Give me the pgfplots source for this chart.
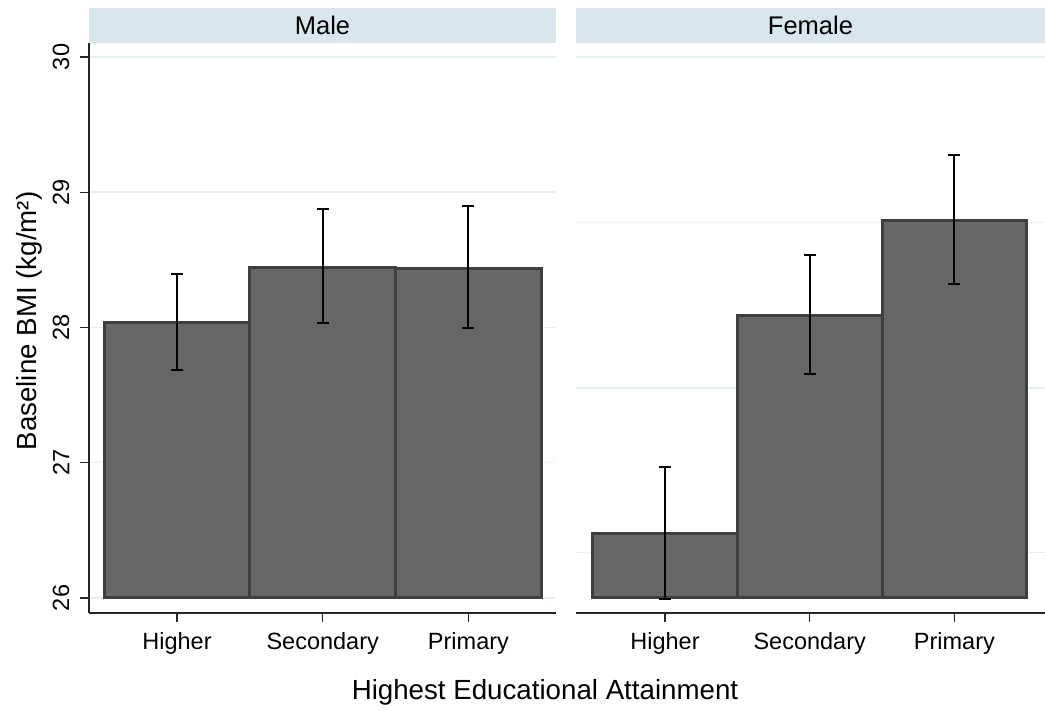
\documentclass[border=0pt]{standalone}
\usepackage{fontspec}
\setmainfont{Liberation Sans}
\usepackage{pgfplots}
\usepackage{pgfplotstable}
\pgfplotsset{compat=1.18}
\definecolor{barfill}{HTML}{666666}
\definecolor{barline}{HTML}{3F3F3F}
\definecolor{hdr}{HTML}{D9E6EB}
\definecolor{gridc}{HTML}{E6EFF1}

\pgfplotstableread{
x m lo hi
1 28.037 27.684 28.398
2 28.447 28.032 28.877
3 28.437 27.993 28.899
}\male
\pgfplotstableread{
x m lo hi
1 26.475 25.990 26.972
2 28.087 27.655 28.533
3 28.790 28.320 29.276
}\female

\pgfplotsset{
  panel/.style={
    scale only axis, height=570pt,
    ymin=25.889, ymax=30.1035,
    axis x line*=bottom,
    axis line style={-, line width=1.3pt, black!85},
    tick align=outside, major tick length=9pt,
    tick style={line width=1.3pt, black!85},
    xtick={1,2,3}, xticklabels={Higher,Secondary,Primary},
    xticklabel shift=7pt,
    ymajorgrids, grid style={gridc, line width=1.5pt},
    tick label style={font=\fontsize{23.5}{28}\selectfont},
    /pgf/number format/assume math mode=true,
    every axis title shift=0pt,
    title style={at={(0.5,1)}, anchor=south, yshift=0pt, fill=hdr,
      inner sep=0pt, minimum height=35pt, font=\fontsize{25.5}{30}\selectfont},
    clip=false,
  },
  bar/.style={fill=barfill, draw=barline, line width=3pt, line join=miter},
  errs/.style={draw=none, mark=none,
    error bars/.cd, y dir=both, y explicit,
    error bar style={draw=black, solid, line width=2pt},
    error mark options={draw=black, solid, line width=2pt, mark size=6pt, rotate=90}},
}

\begin{document}
\begin{tikzpicture}
\useasboundingbox (-89pt,-98pt) rectangle (956pt,613pt);
\begin{axis}[panel, at={(0pt,0pt)}, anchor=south west, width=467pt,
  xmin=0.396, xmax=3.601,
  axis y line*=left,
  ytick={26,27,28,29,30},
  yticklabel style={rotate=90, anchor=south},
  yticklabel shift=7pt,
  title={Male}, title style={minimum width=467pt}]
\addplot[bar] coordinates {(0.5,26) (0.5,28.037) (1.5,28.037) (1.5,26)} -- cycle;
\addplot[bar] coordinates {(1.5,26) (1.5,28.447) (2.5,28.447) (2.5,26)} -- cycle;
\addplot[bar] coordinates {(2.5,26) (2.5,28.437) (3.5,28.437) (3.5,26)} -- cycle;
\addplot[errs] table[x=x, y=m, y error plus expr=\thisrow{hi}-\thisrow{m}, y error minus expr=\thisrow{m}-\thisrow{lo}] {\male};
\end{axis}
\begin{axis}[panel, at={(487pt,0pt)}, anchor=south west, width=469pt,
  xmin=0.385, xmax=3.626,
  axis y line*=left, y axis line style={draw=none},
  ytick={26.335,27.552,28.776,30}, yticklabels={}, ytick style={draw=none},
  title={Female}, title style={minimum width=469pt}]
\addplot[bar] coordinates {(0.5,26) (0.5,26.475) (1.5,26.475) (1.5,26)} -- cycle;
\addplot[bar] coordinates {(1.5,26) (1.5,28.087) (2.5,28.087) (2.5,26)} -- cycle;
\addplot[bar] coordinates {(2.5,26) (2.5,28.790) (3.5,28.790) (3.5,26)} -- cycle;
\addplot[errs] table[x=x, y=m, y error plus expr=\thisrow{hi}-\thisrow{m}, y error minus expr=\thisrow{m}-\thisrow{lo}] {\female};
\end{axis}
\node[font=\fontsize{27.7}{32}\selectfont] at (456pt,-79pt) {Highest Educational Attainment};
\node[font=\fontsize{27.7}{32}\selectfont, rotate=90] at (-60pt,292pt) {Baseline BMI (kg/m²)};
\end{tikzpicture}
\end{document}
